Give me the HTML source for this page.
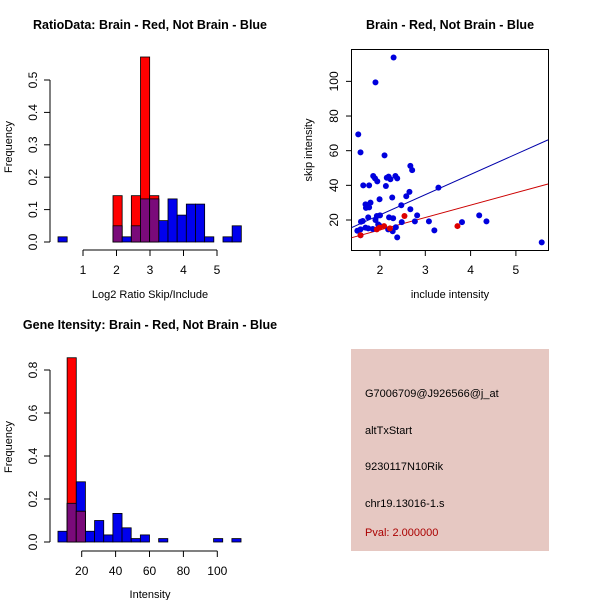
<!DOCTYPE html>
<html><head><meta charset="utf-8"><style>
html,body{margin:0;padding:0;background:#fff}
svg{display:block;font-family:"Liberation Sans",sans-serif}
</style></head><body>
<svg id="c" width="600" height="600" xmlns="http://www.w3.org/2000/svg"></svg>
<script>
// Panel 1: ratio histogram
const ratioStart = 0.254, ratioWidth = 0.2736;
const ratioBlue = [0.016,0,0,0,0,0,0.05,0.016,0.05,0.133,0.133,0.066,0.133,0.083,0.117,0.117,0.016,0,0.016,0.05];
const ratioRed  = [0,0,0,0,0,0,0.143,0,0.143,0.571,0.143,0,0,0,0,0,0,0,0,0];
const ratioXTicks = [1,2,3,4,5];
const ratioYTicks = ["0.0","0.1","0.2","0.3","0.4","0.5"];
// Panel 3: intensity histogram
const intStart = 6.0, intWidth = 5.4;
const intBlue = [0.05,0.18,0.28,0.05,0.1,0.033,0.133,0.066,0.016,0.033,0,0.016,0,0,0,0,0,0.016,0,0.016];
const intRed  = [0,0.857,0.143,0,0,0,0,0,0,0,0,0,0,0,0,0,0,0,0,0];
const intXTicks = [20,40,60,80,100];
const intYTicks = ["0.0","0.2","0.4","0.6","0.8"];
// Panel 2: scatter
const blueX = [1.52,1.57,1.63,1.76,1.90,2.30,2.10,1.85,1.89,1.94,2.13,2.15,2.19,2.23,2.34,2.38,2.67,2.71,2.65,2.58,2.27,3.29,1.99,1.79,1.68,1.69,1.76,2.47,2.67,1.74,1.93,2.0,2.2,2.29,2.82,4.19,3.08,3.81,4.35,2.77,2.48,1.9,1.96,1.99,1.58,1.62,1.5,1.57,1.68,1.74,1.84,2.18,2.28,2.35,3.2,2.38,1.57,5.57];
const blueY = [69.4,59,40,40,99.4,113.8,57.3,45.4,44,42.3,39.6,44.4,45,43.5,45.4,44,51.2,48.8,36.2,33.7,33,38.7,32,30,29,27,27.3,28.5,26.2,21.5,22.3,22.7,21.5,21,22.7,22.7,19.2,18.8,19.2,19.2,18.8,20,17.5,16.7,19,19.4,13.8,14.6,15.6,15.2,14.8,14.6,13.5,15.8,14,10,11.2,7.1];
const redX = [2.54,3.71,2.09,1.93,1.99,2.22,1.57];
const redY = [22.3,16.5,16.5,14.6,15.6,15.2,11.2];
const blueFit = [-0.4, 11.67];
const redFit = [-0.03, 7.15];
const scXTicks = [2,3,4,5];
const scYTicks = [20,40,60,80,100];
const infoLines = ["G7006709@J926566@j_at","altTxStart","9230117N10Rik","chr19.13016-1.s"];
const pvalText = "Pval: 2.000000";

const svg = document.getElementById('c');
const NS = "http://www.w3.org/2000/svg";
function mk(tag, attrs, parent){const e=document.createElementNS(NS,tag);for(const k in attrs)e.setAttribute(k,attrs[k]);(parent||svg).appendChild(e);return e;}
function txt(s, attrs){const e=mk('text',attrs);e.textContent=s;return e;}

function hist(opts){
  const g=mk('g',{});
  
  
  const xs=v=>opts.x0+(v-opts.xv0)*opts.xs, ys=v=>opts.y0-v*opts.ys;
  for(let i=0;i<opts.blue.length;i++){
    const a=opts.start+i*opts.width,b=a+opts.width;
    const x1=xs(a),x2=xs(b);
    const bl=opts.blue[i], rd=opts.red[i];
    if(bl>0){const r=mk('rect',{x:x1,y:ys(bl),width:x2-x1,height:ys(0)-ys(bl),fill:'#0000ee',stroke:'#000','stroke-width':0.8},g);
      
      }
    if(rd>0){const r=mk('rect',{x:x1,y:ys(rd),width:x2-x1,height:ys(0)-ys(rd),fill:bl>0&&bl>=rd?'#b03030':'#ff0000',stroke:'#000','stroke-width':0.8},g);
      
      }
    const m=Math.min(bl,rd);
    if(m>0){const r=mk('rect',{x:x1,y:ys(m),width:x2-x1,height:ys(0)-ys(m),fill:'#7a0a7a',stroke:'#000','stroke-width':0.8},g);
      
      }
  }
  const xa=opts.xticks;
  mk('line',{x1:xs(xa[0]),x2:xs(xa[xa.length-1]),y1:opts.xaxisY,y2:opts.xaxisY,stroke:'#000'},g);
  xa.forEach(t=>{mk('line',{x1:xs(t),x2:xs(t),y1:opts.xaxisY,y2:opts.xaxisY+6,stroke:'#000'},g);
    const e=txt(String(t),{x:xs(t),y:opts.xaxisY+24,'text-anchor':'middle','font-size':12});
    
    });
  const yt=opts.yticks;
  mk('line',{x1:opts.yaxisX,x2:opts.yaxisX,y1:ys(0),y2:ys(parseFloat(yt[yt.length-1])),stroke:'#000'},g);
  yt.forEach(t=>{const v=parseFloat(t);mk('line',{x1:opts.yaxisX-6,x2:opts.yaxisX,y1:ys(v),y2:ys(v),stroke:'#000'},g);
    const e=txt(t,{x:0,y:0,'text-anchor':'middle','font-size':12,transform:`translate(${opts.yaxisX-13},${ys(v)}) rotate(-90)`});
    
    });
}
hist({name:'ratio-histogram',start:ratioStart,width:ratioWidth,blue:ratioBlue,red:ratioRed,x0:83,xv0:1,xs:33.5,y0:242,ys:324,xticks:ratioXTicks,yticks:ratioYTicks,xaxisY:250,yaxisX:50});
hist({name:'intensity-histogram',start:intStart,width:intWidth,blue:intBlue,red:intRed,x0:81.7,xv0:20,xs:1.695,y0:542,ys:215,xticks:intXTicks,yticks:intYTicks,xaxisY:551,yaxisX:50});

let e;
e=txt("RatioData: Brain - Red, Not Brain - Blue",{x:150,y:29,'text-anchor':'middle','font-size':12.5,'font-weight':'bold'});


e=txt("Log2 Ratio Skip/Include",{x:150,y:298,'text-anchor':'middle','font-size':11});


e=txt("Frequency",{x:0,y:0,'text-anchor':'middle','font-size':11,transform:'translate(12,147) rotate(-90)'});


e=txt("Gene Itensity: Brain - Red, Not Brain - Blue",{x:150,y:329,'text-anchor':'middle','font-size':12.5,'font-weight':'bold'});


e=txt("Intensity",{x:150,y:598,'text-anchor':'middle','font-size':11});


e=txt("Frequency",{x:0,y:0,'text-anchor':'middle','font-size':11,transform:'translate(12,447) rotate(-90)'});



const sx=v=>380+(v-2)*45.3, sy=v=>220-(v-20)*1.733;
const sg=mk('g',{});


mk('rect',{x:351.5,y:49.5,width:197,height:201,fill:'none',stroke:'#000'},sg);
scXTicks.forEach(t=>{mk('line',{x1:sx(t),x2:sx(t),y1:250.5,y2:256,stroke:'#000'},sg);
  const e=txt(String(t),{x:sx(t),y:274,'text-anchor':'middle','font-size':12});
  
  });
scYTicks.forEach(t=>{mk('line',{x1:346,x2:351.5,y1:sy(t),y2:sy(t),stroke:'#000'},sg);
  const e=txt(String(t),{x:0,y:0,'text-anchor':'middle','font-size':12,transform:`translate(338,${sy(t)}) rotate(-90)`});
  
  });
const xl=1.375, xr=5.71;
let ln=mk('line',{x1:sx(xl),y1:sy(blueFit[0]+blueFit[1]*xl),x2:sx(xr),y2:sy(blueFit[0]+blueFit[1]*xr),stroke:'#0000aa'},sg);


ln=mk('line',{x1:sx(xl),y1:sy(redFit[0]+redFit[1]*xl),x2:sx(xr),y2:sy(redFit[0]+redFit[1]*xr),stroke:'#cc0000'},sg);


blueX.forEach((v,i)=>{const c=mk('circle',{cx:sx(v),cy:sy(blueY[i]),r:3,fill:'#0000dd'},sg);
  
  });
redX.forEach((v,i)=>{const c=mk('circle',{cx:sx(v),cy:sy(redY[i]),r:3,fill:'#dd0000'},sg);
  
  });
e=txt("Brain - Red, Not Brain - Blue",{x:450,y:29,'text-anchor':'middle','font-size':12.5,'font-weight':'bold'});


e=txt("include intensity",{x:450,y:298,'text-anchor':'middle','font-size':11});


e=txt("skip intensity",{x:0,y:0,'text-anchor':'middle','font-size':11,transform:'translate(312,150) rotate(-90)'});



const ip=mk('rect',{x:351,y:349,width:198,height:202,fill:'#e6c8c2'});


const iy=[397,434,470,507];
infoLines.forEach((s,i)=>{const t=txt(s,{x:365,y:iy[i],'font-size':11,fill:'#000'});
  
  });
e=txt(pvalText,{x:365,y:536,'font-size':11,fill:'#aa0000'});


</script>
</body></html>
